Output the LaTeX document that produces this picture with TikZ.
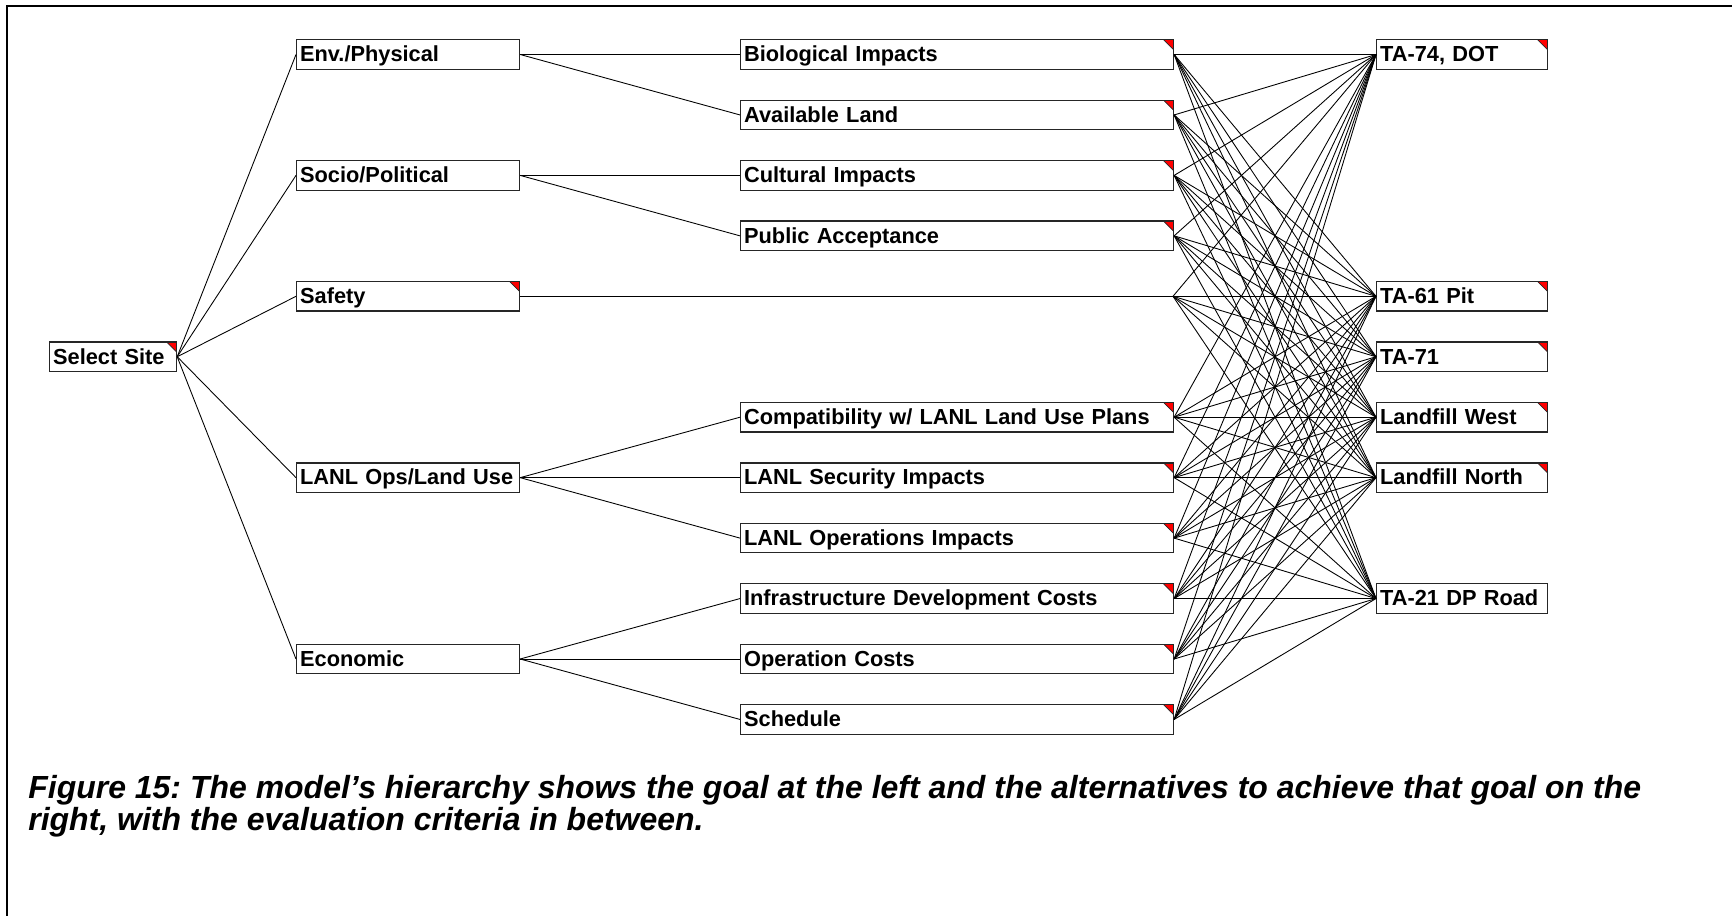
\documentclass[tikz,border=0pt]{standalone}
\usepackage{fontspec}
\setmainfont{Liberation Sans}
\usetikzlibrary{calc}
\frenchspacing

\tikzset{
  box/.style={draw=black!85, line width=0.7pt, rectangle, anchor=west,
    inner xsep=0.07cm, inner ysep=0pt, text height=0.44cm, text depth=0.15cm,
    text width=#1, align=left, font=\fontsize{12.4}{14}\selectfont\bfseries},
  flag/.style={path picture={
    \fill[red] (path picture bounding box.north east) -- ++(-0.2cm,0) -- ++(0.2cm,-0.2cm) -- cycle;
    \draw[line width=0.4pt] ($(path picture bounding box.north east)+(-0.2cm,0)$) -- ++(0.2cm,-0.2cm);}},
  link/.style={line width=0.5pt},
}

\begin{document}
\begin{tikzpicture}[x=0.02cm, y=-0.02cm]

    % パラメータの定義
    \pgfmathsetmacro{\yz}{54.5}
    \pgfmathsetmacro{\dy}{60.45}
    \pgfmathsetmacro{\xa}{49}
    \pgfmathsetmacro{\xb}{296}
    \pgfmathsetmacro{\xc}{740}
    \pgfmathsetmacro{\xd}{1376}
    \pgfmathsetmacro{\xe}{1173}

    \useasboundingbox (0,0) rectangle (1732,916);

    % 枠の描画
    \draw [line width=1.3pt] (7,916) -- (7,6) -- (1732,6);

    % 目標
    \node [box=2.40cm, flag] (goal) at (\xa,{\yz+5*\dy}) {Select Site};

    % 基準
    \node [box=4.32cm] (env)    at (\xb,\yz)           {Env./Physical};
    \node [box=4.32cm] (socio)  at (\xb,{\yz+2*\dy})   {Socio/Political};
    \node [box=4.32cm, flag] (safety) at (\xb,{\yz+4*\dy}) {Safety};
    \node [box=4.32cm] (ops)    at (\xb,{\yz+7*\dy})   {LANL Ops/Land Use};
    \node [box=4.32cm] (econ)   at (\xb,{\yz+10*\dy})  {Economic};

    % 下位基準
    \node [box=8.52cm, flag] (bio)    at (\xc,\yz)          {Biological Impacts};
    \node [box=8.52cm, flag] (land)   at (\xc,{\yz+\dy})    {Available Land};
    \node [box=8.52cm, flag] (cult)   at (\xc,{\yz+2*\dy})  {Cultural Impacts};
    \node [box=8.52cm, flag] (pub)    at (\xc,{\yz+3*\dy})  {Public Acceptance};
    \node [box=8.52cm, flag] (compat) at (\xc,{\yz+6*\dy})  {Compatibility w/ LANL Land Use Plans};
    \node [box=8.52cm, flag] (secur)  at (\xc,{\yz+7*\dy})  {LANL Security Impacts};
    \node [box=8.52cm, flag] (opimp)  at (\xc,{\yz+8*\dy})  {LANL Operations Impacts};
    \node [box=8.52cm, flag] (infra)  at (\xc,{\yz+9*\dy})  {Infrastructure Development Costs};
    \node [box=8.52cm, flag] (opcost) at (\xc,{\yz+10*\dy}) {Operation Costs};
    \node [box=8.52cm, flag] (sched)  at (\xc,{\yz+11*\dy}) {Schedule};
    \coordinate (safetyend) at (\xe,{\yz+4*\dy});

    % 代替案
    \node [box=3.28cm, flag] (ta74) at (\xd,\yz)          {TA-74, DOT};
    \node [box=3.28cm, flag] (ta61) at (\xd,{\yz+4*\dy})  {TA-61 Pit};
    \node [box=3.28cm, flag] (ta71) at (\xd,{\yz+5*\dy})  {TA-71};
    \node [box=3.28cm, flag] (lfw)  at (\xd,{\yz+6*\dy})  {Landfill West};
    \node [box=3.28cm, flag] (lfn)  at (\xd,{\yz+7*\dy})  {Landfill North};
    \node [box=3.28cm]       (ta21) at (\xd,{\yz+9*\dy})  {TA-21 DP Road};

    % 線分の描画
    \foreach \n in {env,socio,safety,ops,econ}
        \draw [link] (goal.east) -- (\n.west);
    \draw [link] (env.east) -- (bio.west);
    \draw [link] (env.east) -- (land.west);
    \draw [link] (socio.east) -- (cult.west);
    \draw [link] (socio.east) -- (pub.west);
    \draw [link] (safety.east) -- (safetyend);
    \draw [link] (ops.east) -- (compat.west);
    \draw [link] (ops.east) -- (secur.west);
    \draw [link] (ops.east) -- (opimp.west);
    \draw [link] (econ.east) -- (infra.west);
    \draw [link] (econ.east) -- (opcost.west);
    \draw [link] (econ.east) -- (sched.west);

    \foreach \c in {bio.east,land.east,cult.east,pub.east,safetyend,compat.east,secur.east,opimp.east,infra.east,opcost.east,sched.east}
        \foreach \a in {ta74,ta61,ta71,lfw,lfn,ta21}
            \draw [link] (\c) -- (\a.west);

    % 説明文
    \node [anchor=north west, align=left, inner sep=0pt,
        font=\fontsize{18.2}{18.3}\selectfont\bfseries\itshape] (caption) at (28,775)
        {Figure 15: The model’s hierarchy shows the goal at the left and the alternatives to achieve that goal on the\\
         right, with the evaluation criteria in between.};

\end{tikzpicture}
\end{document}
